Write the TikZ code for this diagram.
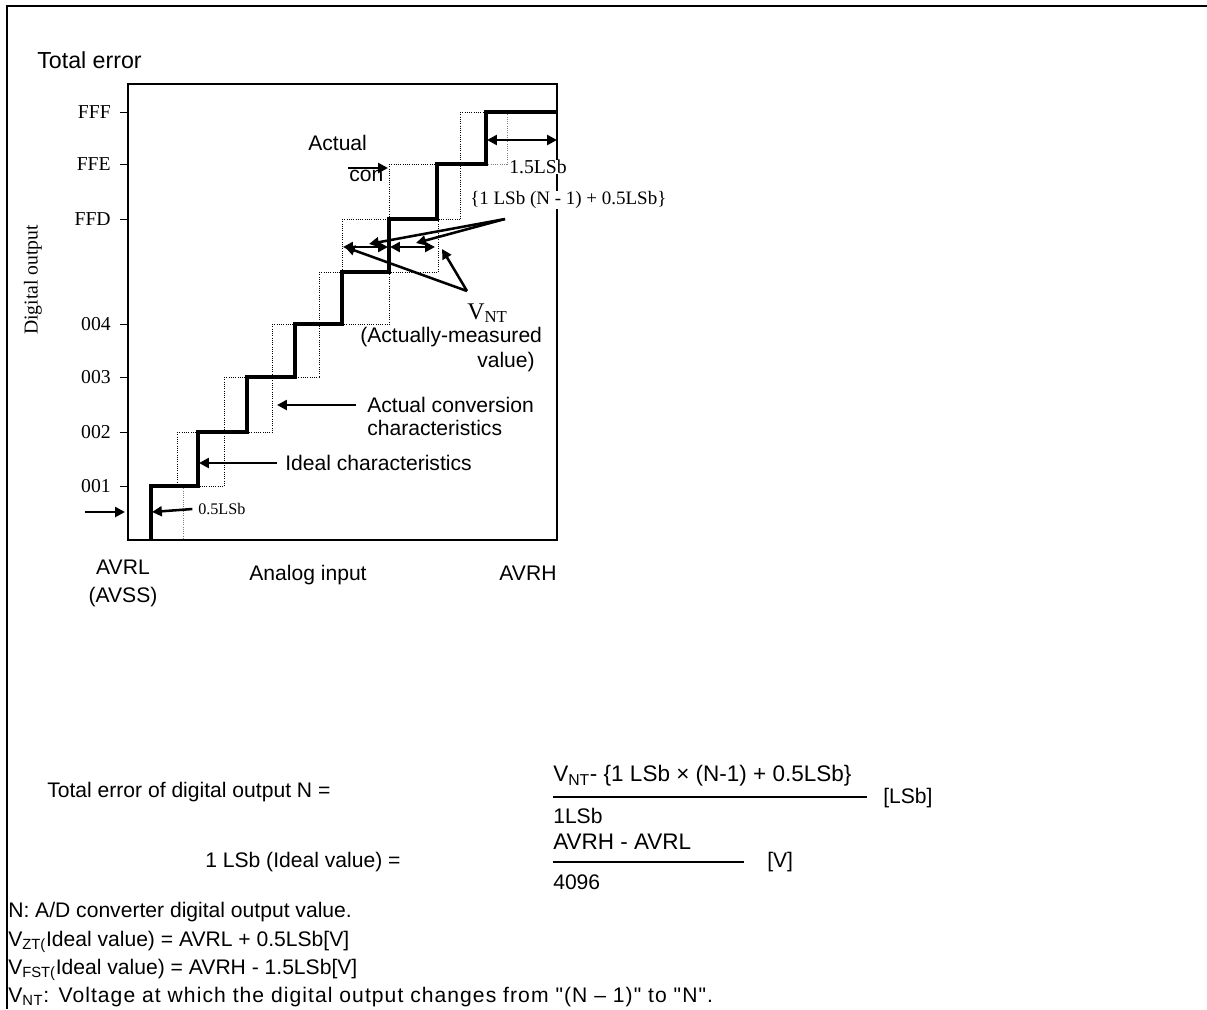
\documentclass[tikz,border=0pt]{standalone}
\usepackage{fontspec}
\setmainfont{Liberation Sans}[Ligatures=TeXOff]
\newfontfamily\tms{Liberation Serif}
\newfontfamily\widefont{Liberation Sans}[Ligatures=TeXOff,LetterSpace=5.0]
\usetikzlibrary{arrows.meta}

\begin{document}
\begin{tikzpicture}[x=0.025cm,y=-0.025cm,
  lbl/.style={font=\fontsize{15}{18}\selectfont,inner sep=0pt,anchor=west},
  tms/.style={font=\tms\fontsize{14}{16}\selectfont,inner sep=0pt},
  tick/.style={tms,anchor=east},
  ideal/.style={line width=2.2pt},
  actual/.style={densely dotted,line width=0.6pt},
  refline/.style={densely dotted,gray,line width=0.6pt},
  ptr/.style={-{Triangle[length=7pt,width=7pt]},line width=1.8pt},
  span/.style={{Triangle[length=7pt,width=7pt]}-{Triangle[length=7pt,width=7pt]},line width=1.8pt},
  fracbar/.style={line width=1.4pt}
]
  \useasboundingbox (0,0) rectangle (1207,1009);
  % outer frame
  \draw[line width=1.4pt] (7,1009) -- (7,6) -- (1207,6);
  \node[lbl,font=\fontsize{16.5}{18}\selectfont] (title) at (37,60) {Total error};

  % plot box, ticks and axis labels
  \draw[line width=0.8pt] (128,84) rectangle (557,540);
  \draw (120,112) -- (128,112) (120,164) -- (128,164) (120,219) -- (128,219)
        (120,324) -- (128,324) (120,377) -- (128,377) (120,432) -- (128,432)
        (120,486) -- (128,486);
  \node[tick] (fff) at (111,112) {FFF};
  \node[tick] (ffe) at (111,164) {FFE};
  \node[tick] (ffd) at (111,219) {FFD};
  \node[tick] (c004) at (111,324) {004};
  \node[tick] (c003) at (111,377) {003};
  \node[tick] (c002) at (111,432) {002};
  \node[tick] (c001) at (111,486) {001};
  \node[tms,rotate=90] (ylab) at (33,280) {Digital output};
  \node[lbl,anchor=center,align=center,font=\fontsize{15}{20}\selectfont] (avrl) at (123,583) {AVRL\\(AVSS)};
  \node[lbl,anchor=center] (xlab) at (308,575) {Analog input};
  \node[lbl,anchor=center] (avrh) at (528,573) {AVRH};

  % actual conversion characteristics (dotted)
  \draw[actual] (177,486) -- (224,486) (177,432) -- (272,432) (224,377) -- (319,377)
        (272,324) -- (389,324) (319,272) -- (438,272) (342,219) -- (460,219)
        (389,164) -- (486,164) (460,112) -- (486,112);
  \draw[actual] (177,432) -- (177,486) (224,377) -- (224,486) (272,324) -- (272,432)
        (319,272) -- (319,377) (342,219) -- (342,272) (389,164) -- (389,324)
        (438,219) -- (438,272) (460,112) -- (460,219);
  \draw[refline] (183,486) -- (183,540);
  \draw[refline] (486,164) -- (507,164) -- (507,112);

  % ideal characteristics
  \draw[ideal] (151,540) -- (151,486) -- (198,486) -- (198,432) -- (247,432)
        -- (247,377) -- (295,377) -- (295,324) -- (342,324) -- (342,272)
        -- (389,272) -- (389,219) -- (437,219) -- (437,164) -- (486,164)
        -- (486,112) -- (557,112);

  % points on the characteristics
  \coordinate (zin) at (85,512);
  \coordinate (zax) at (125,512);
  \coordinate (zt) at (152,512);
  \coordinate (idp) at (199,463);
  \coordinate (acp) at (277,405);
  \coordinate (d1) at (343,247);
  \coordinate (d2) at (388,247);
  \coordinate (d3) at (390,247);
  \coordinate (d4) at (435,247);
  \coordinate (f1) at (487,140);
  \coordinate (f2) at (557,140);
  \coordinate (ca) at (348,168);
  \coordinate (cb) at (388,168);
  \coordinate (bsrc) at (505,219);
  \coordinate (bt1) at (369,244);
  \coordinate (bt2) at (416,243);
  \coordinate (vsrc) at (467,291);
  \coordinate (vt1) at (345,247);
  \coordinate (vt2) at (442,249);

  % labels inside the plot
  \node[lbl] (act) at (308,143) {Actual};
  \node[lbl] (con) at (349,176) {con};
  \node[tms,anchor=west,fill=white] (full) at (509,167) {1.5LSb};
  \node[tms,anchor=west,fill=white,font=\tms\fontsize{13.5}{15}\selectfont] (brace) at (470,200)
       {\{1 LSb (N - 1) + 0.5LSb\}};
  \node[tms,anchor=west] (vnt) at (467,313) {\fontsize{17}{18}\selectfont V\textsubscript{NT}};
  \node[lbl] (meas1) at (360,337) {(Actually-measured};
  \node[lbl,anchor=east] (meas2) at (535,362) {value)};
  \node[lbl] (ac1) at (367,405) {Actual conversion};
  \node[lbl] (ac2) at (367,428) {characteristics};
  \node[lbl] (idl) at (285,463) {Ideal characteristics};
  \node[tms,anchor=west,font=\tms\fontsize{11.5}{13}\selectfont] (half) at (198,509) {0.5LSb};

  % arrows
  \draw[ptr] (zin) -- (zax);
  \draw[ptr] ([xshift=-4pt]half.west) -- (zt);
  \draw[ptr] ([xshift=-6pt]idl.west) -- (idp);
  \draw[ptr] ([xshift=-8pt]ac1.west) -- (acp);
  \draw[ptr] (ca) -- (cb);
  \draw[span] (d1) -- (d2);
  \draw[span] (d3) -- (d4);
  \draw[span] (f1) -- (f2);
  \draw[ptr] (bsrc) -- (bt1);
  \draw[ptr] (bsrc) -- (bt2);
  \draw[ptr] (vsrc) -- (vt1);
  \draw[ptr] (vsrc) -- (vt2);

  % formulas
  \node[lbl] (eq1) at (47,792) {Total error of digital output N =};
  \node[lbl,font=\fontsize{16}{18}\selectfont] (num1) at (553,776) {V\textsubscript{NT}- \{1 LSb × (N-1) + 0.5LSb\}};
  \draw[fracbar] (553,797) -- (867,797);
  \node[lbl] (den1) at (553,816) {1LSb};
  \node[lbl] (unit1) at (883,798) {[LSb]};
  \node[lbl] (eq2) at (205,862) {1 LSb (Ideal value) =};
  \node[lbl,font=\fontsize{16}{18}\selectfont] (num2) at (553,842) {AVRH - AVRL};
  \draw[fracbar] (553,862) -- (744,862);
  \node[lbl] (den2) at (553,882) {4096};
  \node[lbl] (unit2) at (767,862) {[V]};

  % notes
  \node[lbl] (n1) at (8,912) {N: A/D converter digital output value.};
  \node[lbl] (n2) at (8,942) {V\textsubscript{ZT(}Ideal value) = AVRL + 0.5LSb[V]};
  \node[lbl] (n3) at (8,970) {V\textsubscript{FST(}Ideal value) = AVRH - 1.5LSb[V]};
  \node[lbl,font=\widefont\fontsize{15}{18}\selectfont] (n4) at (8,997)
       {V\textsubscript{NT}: Voltage at which the digital output changes from "(N – 1)" to "N".};
\end{tikzpicture}
\end{document}
